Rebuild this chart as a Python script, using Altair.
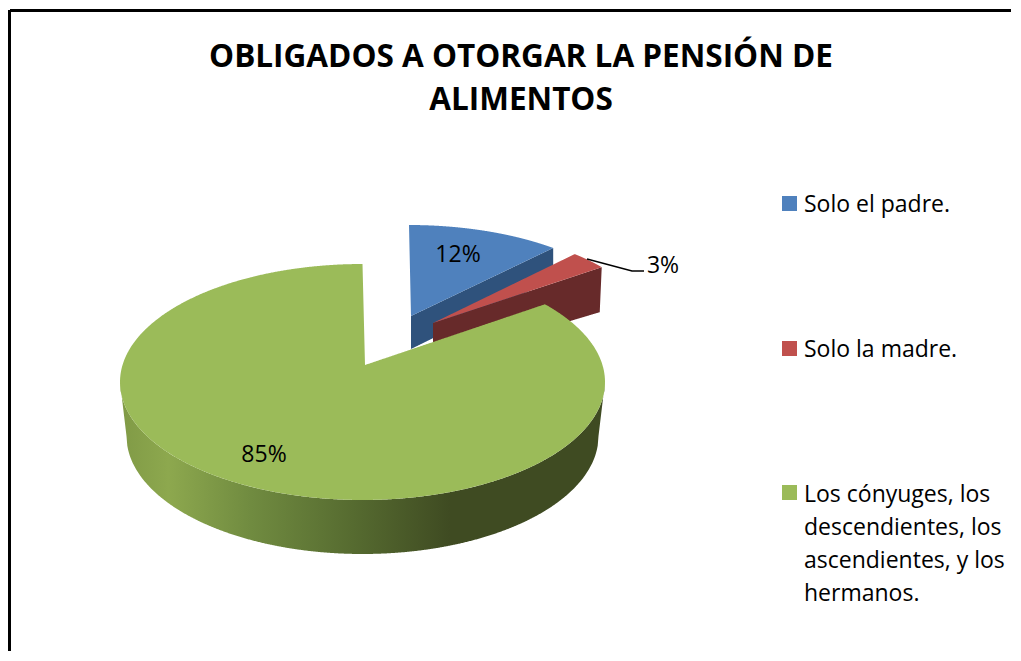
import numpy as np
import pandas as pd
import altair as alt

# --- chart values
categories = ["Solo el padre.", "Solo la madre.",
              "Los cónyuges, los descendientes, los ascendientes, y los hermanos."]
values = [12, 3, 85]
labels = ["12%", "3%", "85%"]
colors = ["#4f81bd", "#c0504d", "#9bbb59"]
wall_colors = ["#2f527c", "#672a2a"]
title_lines = ["OBLIGADOS A OTORGAR LA PENSIÓN DE", "ALIMENTOS"]
legend_lines = [["Solo el padre."], ["Solo la madre."],
                ["Los cónyuges, los", "descendientes, los", "ascendientes, y los", "hermanos."]]

# --- layout (page pixels)
W0, H0, W1, H1 = 8, 8, 1013, 653
FONT = "Open Sans"
K = 0.89  # perspective squeeze of slice angles
# per slice: apex x,y; ellipse cx,cy,rx,ry
geom = [
    dict(ax=411, ay=316, cx=409, cy=329, rx=230, ry=104),
    dict(ax=433, ay=323, cx=440, cy=339, rx=215, ry=109),
    dict(ax=365, ay=365, cx=362.5, cy=382, rx=242.5, ry=118),
]

cum = np.cumsum([0] + values) / sum(values) * 2 * np.pi


def persp(th):
    return 2 * np.arctan(K * np.tan(th / 2))


def ell(g, th):
    t = persp(np.asarray(th))
    return g["cx"] + g["rx"] * np.sin(t), g["cy"] - g["ry"] * np.cos(t)


def envelope(px, py, n=500):
    """Upper and lower outline of a polygon, sampled along x."""
    px, py = np.asarray(px, float), np.asarray(py, float)
    xs = np.unique(np.concatenate([np.linspace(px.min(), px.max(), n), px]))
    xs = np.clip(xs, px.min() + 1e-3, px.max() - 1e-3)
    xs = np.unique(xs)
    x0, y0 = px, py
    x1, y1 = np.roll(px, -1), np.roll(py, -1)
    top, bot = [], []
    for x in xs:
        m = (x0 - x) * (x1 - x) <= 0
        m &= x0 != x1
        ys = y0[m] + (x - x0[m]) / (x1[m] - x0[m]) * (y1[m] - y0[m])
        top.append(ys.min())
        bot.append(ys.max())
    return pd.DataFrame({"x": xs, "y": top, "y2": bot})


def slice_poly(i, m=240):
    g = geom[i]
    th = np.linspace(cum[i], cum[i + 1], m)
    if i == 2:
        th = th[:-1]
        th = np.append(th, 2 * np.pi - 1e-6)
    ex, ey = ell(g, th)
    return np.r_[g["ax"], ex], np.r_[g["ay"], ey]


X = alt.Scale(domain=[W0, W1], range=[0, W1 - W0], nice=False, zero=False)
Y = alt.Scale(domain=[H0, H1], range=[0, H1 - H0], nice=False, zero=False)
cscale = alt.Scale(domain=categories, range=colors)


def enc(**kw):
    return dict(x=alt.X("x:Q", scale=X, axis=None), y=alt.Y("y:Q", scale=Y, axis=None), **kw)


def top_face(i):
    df = envelope(*slice_poly(i))
    df["cat"] = categories[i]
    return alt.Chart(df).mark_area(clip=False).encode(
        **enc(y2="y2:Q", color=alt.Color("cat:N", scale=cscale, legend=None)))


def flat(df, col):
    return alt.Chart(df).mark_area().encode(**enc(y2="y2:Q", color=alt.value(col)))


# inner walls of the two pulled-out slices (end points come from the slice angles)
bx, by = ell(geom[0], cum[1])
blue_wall = envelope([geom[0]["ax"], bx, bx, geom[0]["ax"]],
                     [geom[0]["ay"], by, by + 31, geom[0]["ay"] + 33])
rx_, ry_ = ell(geom[1], cum[2])
red_wall = envelope([geom[1]["ax"], rx_, rx_ - 2, geom[1]["ax"]],
                    [geom[1]["ay"], ry_, ry_ + 45, geom[1]["ay"] + 39])

# outer wall of the big slice
g = geom[2]
gx = np.linspace(g["cx"] - g["rx"] + 0.01, g["cx"] + g["rx"] - 0.01, 600)
up = g["cy"] + g["ry"] * np.sqrt(1 - ((gx - g["cx"]) / g["rx"]) ** 2)
rx2, cy2, ry2 = 236.0, 436.0, 118.0
inside = np.abs(gx - g["cx"]) <= rx2
low = np.where(
    inside,
    cy2 + ry2 * np.sqrt(np.clip(1 - ((gx - g["cx"]) / rx2) ** 2, 0, 1)),
    g["cy"] + (cy2 - g["cy"]) * (g["rx"] - np.abs(gx - g["cx"])) / (g["rx"] - rx2),
)
wall_df = pd.DataFrame({"x": gx, "y": up, "y2": low})
wall_grad = alt.Gradient(
    gradient="linear", x1=0, x2=1, y1=0, y2=0,
    stops=[
        alt.GradientStop(offset=0.0, color="#809a46"),
        alt.GradientStop(offset=0.1, color="#8da84e"),
        alt.GradientStop(offset=0.27, color="#708b40"),
        alt.GradientStop(offset=0.48, color="#566b30"),
        alt.GradientStop(offset=0.68, color="#3f4b22"),
        alt.GradientStop(offset=1.0, color="#3f4b22"),
    ],
)
green_wall = alt.Chart(wall_df).mark_area(color=wall_grad).encode(**enc(y2="y2:Q"))

# frame: kept inside the view so its stroke does not widen the drawing
frame_top = alt.Chart(pd.DataFrame({"x": [W0 + 2], "x2": [W1 - 2], "y": [10.5]})).mark_rule(
    color="black", strokeWidth=3).encode(**enc(x2="x2:Q"))
frame_left = alt.Chart(pd.DataFrame({"x": [9.5], "y": [H0 + 2], "y2": [H1 - 2]})).mark_rule(
    color="black", strokeWidth=3).encode(**enc(y2="y2:Q"))

# leader line of the 3% label
leader = alt.Chart(pd.DataFrame({"x": [587, 632, 644], "y": [259, 271, 271]})).mark_line(
    color="black", strokeWidth=1.5).encode(**enc())

# texts
title_df = pd.DataFrame({"t": title_lines, "x": [521, 521], "y": [56, 99]})
title = alt.Chart(title_df).mark_text(
    font=FONT, fontWeight="bold", fontSize=31.5, color="black", align="center", baseline="middle", dy=2
).encode(**enc(text="t:N"))

lab_df = pd.DataFrame({"t": labels, "x": [458, 663, 264], "y": [253, 264, 453]})
pct = alt.Chart(lab_df).mark_text(
    font=FONT, fontSize=23, color="black", align="center", baseline="middle", dy=2
).encode(**enc(text="t:N"))

sq_df = pd.DataFrame({"cat": categories, "x": [789.5] * 3, "y": [203.5, 348.5, 492.5]})
squares = alt.Chart(sq_df).mark_square(size=225, opacity=1).encode(
    **enc(color=alt.Color("cat:N", scale=cscale, legend=None)))

ly = [[203], [348], [493, 526, 559, 592]]
leg_df = pd.DataFrame(
    [{"t": t, "x": 804, "y": y} for ls, ys in zip(legend_lines, ly) for t, y in zip(ls, ys)]
)
legend = alt.Chart(leg_df).mark_text(
    font=FONT, fontSize=23, color="black", align="left", baseline="middle", dy=2
).encode(**enc(text="t:N"))

chart = alt.layer(
    frame_top, frame_left,
    flat(blue_wall, wall_colors[0]), top_face(0),
    flat(red_wall, wall_colors[1]), top_face(1),
    green_wall, top_face(2),
    leader, title, pct, squares, legend,
).resolve_scale(color="shared").properties(
    width=W1 - W0, height=H1 - H0, padding=0, background="white"
).configure_view(stroke=None)

chart.save("out.html", embed_options={"renderer": "svg", "actions": False})
